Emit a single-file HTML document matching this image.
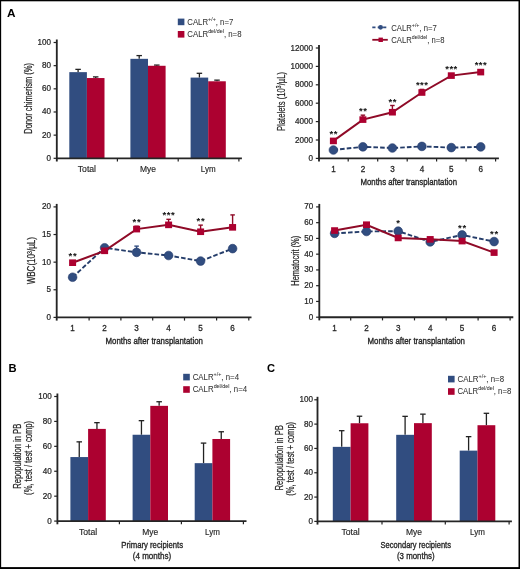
<!DOCTYPE html>
<html><head><meta charset="utf-8"><style>
html,body{margin:0;padding:0;width:520px;height:569px;overflow:hidden;background:#fff;}
body{position:relative;font-family:"Liberation Sans",sans-serif;}
</style></head><body>
<svg width="520" height="569" viewBox="0 0 520 569" style="position:absolute;left:0;top:0;will-change:transform;font-family:'Liberation Sans',sans-serif">
<rect x="0" y="0" width="520" height="569" fill="#fff"/>
<text x="7.0" y="16.8" font-size="11.8" text-anchor="start" fill="#000" font-weight="bold">A</text>
<text x="8.4" y="371.6" font-size="11.2" text-anchor="start" fill="#000" font-weight="bold">B</text>
<text x="267.0" y="372.4" font-size="11.2" text-anchor="start" fill="#000" font-weight="bold">C</text>
<line x1="78.1" y1="72.14" x2="78.1" y2="69.37" stroke="#222" stroke-width="1.3"/>
<line x1="75.35" y1="69.37" x2="80.85" y2="69.37" stroke="#222" stroke-width="1.3"/>
<line x1="95.7" y1="78.05" x2="95.7" y2="76.89" stroke="#222" stroke-width="1.3"/>
<line x1="92.95" y1="76.89" x2="98.45" y2="76.89" stroke="#222" stroke-width="1.3"/>
<rect x="69.3" y="72.14" width="17.6" height="86.16" fill="#314d80"/>
<rect x="86.9" y="78.05" width="17.6" height="80.25" fill="#ac0130"/>
<text x="86.9" y="172.2" font-size="8.2" text-anchor="middle" fill="#262626" font-weight="normal" textLength="18.3" lengthAdjust="spacingAndGlyphs" stroke="#262626" stroke-width="0.15">Total</text>
<line x1="139.2" y1="58.83" x2="139.2" y2="55.59" stroke="#222" stroke-width="1.3"/>
<line x1="136.45" y1="55.59" x2="141.95" y2="55.59" stroke="#222" stroke-width="1.3"/>
<line x1="156.8" y1="65.78" x2="156.8" y2="65.08" stroke="#222" stroke-width="1.3"/>
<line x1="154.05" y1="65.08" x2="159.55" y2="65.08" stroke="#222" stroke-width="1.3"/>
<rect x="130.4" y="58.83" width="17.6" height="99.47" fill="#314d80"/>
<rect x="148" y="65.78" width="17.6" height="92.52" fill="#ac0130"/>
<text x="148" y="172.2" font-size="8.2" text-anchor="middle" fill="#262626" font-weight="normal" textLength="16" lengthAdjust="spacingAndGlyphs" stroke="#262626" stroke-width="0.15">Mye</text>
<line x1="199.4" y1="77.59" x2="199.4" y2="73.3" stroke="#222" stroke-width="1.3"/>
<line x1="196.65" y1="73.3" x2="202.15" y2="73.3" stroke="#222" stroke-width="1.3"/>
<line x1="217.0" y1="81.29" x2="217.0" y2="80.14" stroke="#222" stroke-width="1.3"/>
<line x1="214.25" y1="80.14" x2="219.75" y2="80.14" stroke="#222" stroke-width="1.3"/>
<rect x="190.6" y="77.59" width="17.6" height="80.71" fill="#314d80"/>
<rect x="208.2" y="81.29" width="17.6" height="77.01" fill="#ac0130"/>
<text x="208.2" y="172.2" font-size="8.2" text-anchor="middle" fill="#262626" font-weight="normal" textLength="14.8" lengthAdjust="spacingAndGlyphs" stroke="#262626" stroke-width="0.15">Lym</text>
<line x1="56.8" y1="39.5" x2="56.8" y2="161.5" stroke="#252525" stroke-width="1.85"/>
<line x1="56.8" y1="158.3" x2="241.9" y2="158.3" stroke="#252525" stroke-width="1.85"/>
<line x1="53.6" y1="158.3" x2="56.8" y2="158.3" stroke="#222" stroke-width="1.2"/>
<g transform="translate(51,160.8) scale(0.9,1)"><text x="0" y="0" font-size="9" text-anchor="end" fill="#262626" stroke="#262626" stroke-width="0.25">0</text></g>
<line x1="53.6" y1="135.14" x2="56.8" y2="135.14" stroke="#222" stroke-width="1.2"/>
<g transform="translate(51,137.64) scale(0.9,1)"><text x="0" y="0" font-size="9" text-anchor="end" fill="#262626" stroke="#262626" stroke-width="0.25">20</text></g>
<line x1="53.6" y1="111.98" x2="56.8" y2="111.98" stroke="#222" stroke-width="1.2"/>
<g transform="translate(51,114.48) scale(0.9,1)"><text x="0" y="0" font-size="9" text-anchor="end" fill="#262626" stroke="#262626" stroke-width="0.25">40</text></g>
<line x1="53.6" y1="88.82" x2="56.8" y2="88.82" stroke="#222" stroke-width="1.2"/>
<g transform="translate(51,91.32) scale(0.9,1)"><text x="0" y="0" font-size="9" text-anchor="end" fill="#262626" stroke="#262626" stroke-width="0.25">60</text></g>
<line x1="53.6" y1="65.66" x2="56.8" y2="65.66" stroke="#222" stroke-width="1.2"/>
<g transform="translate(51,68.16) scale(0.9,1)"><text x="0" y="0" font-size="9" text-anchor="end" fill="#262626" stroke="#262626" stroke-width="0.25">80</text></g>
<line x1="53.6" y1="42.5" x2="56.8" y2="42.5" stroke="#222" stroke-width="1.2"/>
<g transform="translate(51,45.0) scale(0.9,1)"><text x="0" y="0" font-size="9" text-anchor="end" fill="#262626" stroke="#262626" stroke-width="0.25">100</text></g>
<line x1="117.4" y1="158.3" x2="117.4" y2="161.5" stroke="#222" stroke-width="1.2"/>
<line x1="178.2" y1="158.3" x2="178.2" y2="161.5" stroke="#222" stroke-width="1.2"/>
<line x1="238.9" y1="158.3" x2="238.9" y2="161.5" stroke="#222" stroke-width="1.2"/>
<text transform="translate(32.2,98.4) rotate(-90)" x="0" y="0" font-size="10" text-anchor="middle" fill="#262626" textLength="70.8" lengthAdjust="spacingAndGlyphs" stroke="#262626" stroke-width="0.22">Donor chimerism (%)</text>
<rect x="177.8" y="18.6" width="6.6" height="6.6" fill="#314d80"/>
<rect x="177.8" y="31.0" width="6.6" height="6.6" fill="#ac0130"/>
<text x="187.3" y="24.6" font-size="8.2" fill="#333" stroke="#333" stroke-width="0.05" textLength="46" lengthAdjust="spacingAndGlyphs">CALR<tspan font-size="5.6" dy="-3.9">+/+</tspan><tspan dy="3.9">, n=7</tspan></text>
<text x="187.3" y="37.0" font-size="8.2" fill="#333" stroke="#333" stroke-width="0.05" textLength="54.2" lengthAdjust="spacingAndGlyphs">CALR<tspan font-size="5.6" dy="-3.9">del/del</tspan><tspan dy="3.9">, n=8</tspan></text>
<line x1="319" y1="45" x2="319" y2="161.6" stroke="#252525" stroke-width="1.85"/>
<line x1="319" y1="158.4" x2="498.9" y2="158.4" stroke="#252525" stroke-width="1.85"/>
<line x1="315.8" y1="158.4" x2="319" y2="158.4" stroke="#222" stroke-width="1.2"/>
<g transform="translate(313,160.9) scale(0.9,1)"><text x="0" y="0" font-size="9" text-anchor="end" fill="#262626" stroke="#262626" stroke-width="0.25">0</text></g>
<line x1="315.8" y1="140.0" x2="319" y2="140.0" stroke="#222" stroke-width="1.2"/>
<g transform="translate(313,142.5) scale(0.9,1)"><text x="0" y="0" font-size="9" text-anchor="end" fill="#262626" stroke="#262626" stroke-width="0.25">2000</text></g>
<line x1="315.8" y1="121.6" x2="319" y2="121.6" stroke="#222" stroke-width="1.2"/>
<g transform="translate(313,124.1) scale(0.9,1)"><text x="0" y="0" font-size="9" text-anchor="end" fill="#262626" stroke="#262626" stroke-width="0.25">4000</text></g>
<line x1="315.8" y1="103.2" x2="319" y2="103.2" stroke="#222" stroke-width="1.2"/>
<g transform="translate(313,105.7) scale(0.9,1)"><text x="0" y="0" font-size="9" text-anchor="end" fill="#262626" stroke="#262626" stroke-width="0.25">6000</text></g>
<line x1="315.8" y1="84.8" x2="319" y2="84.8" stroke="#222" stroke-width="1.2"/>
<g transform="translate(313,87.3) scale(0.9,1)"><text x="0" y="0" font-size="9" text-anchor="end" fill="#262626" stroke="#262626" stroke-width="0.25">8000</text></g>
<line x1="315.8" y1="66.4" x2="319" y2="66.4" stroke="#222" stroke-width="1.2"/>
<g transform="translate(313,68.9) scale(0.9,1)"><text x="0" y="0" font-size="9" text-anchor="end" fill="#262626" stroke="#262626" stroke-width="0.25">10000</text></g>
<line x1="315.8" y1="48.0" x2="319" y2="48.0" stroke="#222" stroke-width="1.2"/>
<g transform="translate(313,50.5) scale(0.9,1)"><text x="0" y="0" font-size="9" text-anchor="end" fill="#262626" stroke="#262626" stroke-width="0.25">12000</text></g>
<line x1="348.2" y1="158.4" x2="348.2" y2="161.6" stroke="#222" stroke-width="1.2"/>
<line x1="377.7" y1="158.4" x2="377.7" y2="161.6" stroke="#222" stroke-width="1.2"/>
<line x1="407.2" y1="158.4" x2="407.2" y2="161.6" stroke="#222" stroke-width="1.2"/>
<line x1="436.6" y1="158.4" x2="436.6" y2="161.6" stroke="#222" stroke-width="1.2"/>
<line x1="466.1" y1="158.4" x2="466.1" y2="161.6" stroke="#222" stroke-width="1.2"/>
<line x1="495.6" y1="158.4" x2="495.6" y2="161.6" stroke="#222" stroke-width="1.2"/>
<line x1="362.9" y1="119.6" x2="362.9" y2="115.16" stroke="#8f0a27" stroke-width="1.4"/>
<line x1="360.65" y1="115.16" x2="365.15" y2="115.16" stroke="#8f0a27" stroke-width="1.4"/>
<line x1="392.4" y1="112.22" x2="392.4" y2="105.5" stroke="#8f0a27" stroke-width="1.4"/>
<line x1="390.15" y1="105.5" x2="394.65" y2="105.5" stroke="#8f0a27" stroke-width="1.4"/>
<line x1="421.9" y1="92.5" x2="421.9" y2="89.4" stroke="#8f0a27" stroke-width="1.4"/>
<line x1="419.65" y1="89.4" x2="424.15" y2="89.4" stroke="#8f0a27" stroke-width="1.4"/>
<polyline points="333.4,150.00 362.9,146.81 392.4,148.00 421.9,146.40 451.3,147.60 480.7,146.90" fill="none" stroke="#253d6a" stroke-width="1.9" stroke-dasharray="4.6 2.1"/>
<circle cx="333.4" cy="150.00" r="4.35" fill="#314d80" stroke="#24396a" stroke-width="0.6"/>
<circle cx="362.9" cy="146.81" r="4.35" fill="#314d80" stroke="#24396a" stroke-width="0.6"/>
<circle cx="392.4" cy="148.00" r="4.35" fill="#314d80" stroke="#24396a" stroke-width="0.6"/>
<circle cx="421.9" cy="146.40" r="4.35" fill="#314d80" stroke="#24396a" stroke-width="0.6"/>
<circle cx="451.3" cy="147.60" r="4.35" fill="#314d80" stroke="#24396a" stroke-width="0.6"/>
<circle cx="480.7" cy="146.90" r="4.35" fill="#314d80" stroke="#24396a" stroke-width="0.6"/>
<polyline points="333.4,140.92 362.9,119.60 392.4,112.22 421.9,92.50 451.3,75.60 480.7,72.10" fill="none" stroke="#8f0a27" stroke-width="2"/>
<rect x="329.9" y="137.62" width="7" height="6.6" fill="#ac0130"/>
<rect x="359.4" y="116.30" width="7" height="6.6" fill="#ac0130"/>
<rect x="388.9" y="108.92" width="7" height="6.6" fill="#ac0130"/>
<rect x="418.4" y="89.20" width="7" height="6.6" fill="#ac0130"/>
<rect x="447.8" y="72.30" width="7" height="6.6" fill="#ac0130"/>
<rect x="477.2" y="68.80" width="7" height="6.6" fill="#ac0130"/>
<text x="333.4" y="136.9" font-size="9.5" text-anchor="middle" fill="#111" font-weight="bold" textLength="8.0" lengthAdjust="spacing">**</text>
<text x="362.9" y="113.5" font-size="9.5" text-anchor="middle" fill="#111" font-weight="bold" textLength="8.0" lengthAdjust="spacing">**</text>
<text x="392.4" y="104.8" font-size="9.5" text-anchor="middle" fill="#111" font-weight="bold" textLength="8.0" lengthAdjust="spacing">**</text>
<text x="421.9" y="87.5" font-size="9.5" text-anchor="middle" fill="#111" font-weight="bold" textLength="12.0" lengthAdjust="spacing">***</text>
<text x="451.3" y="71.5" font-size="9.5" text-anchor="middle" fill="#111" font-weight="bold" textLength="12.0" lengthAdjust="spacing">***</text>
<text x="480.7" y="68.3" font-size="9.5" text-anchor="middle" fill="#111" font-weight="bold" textLength="12.0" lengthAdjust="spacing">***</text>
<g transform="translate(333.4,171.5) scale(0.9,1)"><text x="0" y="0" font-size="9" text-anchor="middle" fill="#262626" stroke="#262626" stroke-width="0.3">1</text></g>
<g transform="translate(362.9,171.5) scale(0.9,1)"><text x="0" y="0" font-size="9" text-anchor="middle" fill="#262626" stroke="#262626" stroke-width="0.3">2</text></g>
<g transform="translate(392.4,171.5) scale(0.9,1)"><text x="0" y="0" font-size="9" text-anchor="middle" fill="#262626" stroke="#262626" stroke-width="0.3">3</text></g>
<g transform="translate(421.9,171.5) scale(0.9,1)"><text x="0" y="0" font-size="9" text-anchor="middle" fill="#262626" stroke="#262626" stroke-width="0.3">4</text></g>
<g transform="translate(451.3,171.5) scale(0.9,1)"><text x="0" y="0" font-size="9" text-anchor="middle" fill="#262626" stroke="#262626" stroke-width="0.3">5</text></g>
<g transform="translate(480.7,171.5) scale(0.9,1)"><text x="0" y="0" font-size="9" text-anchor="middle" fill="#262626" stroke="#262626" stroke-width="0.3">6</text></g>
<text x="360.5" y="185.1" font-size="9.8" text-anchor="start" fill="#262626" font-weight="normal" textLength="96.5" lengthAdjust="spacingAndGlyphs" stroke="#262626" stroke-width="0.38">Months after transplantation</text>
<text transform="translate(284.5,101.5) rotate(-90)" x="0" y="0" font-size="10" text-anchor="middle" fill="#262626" textLength="59.2" lengthAdjust="spacingAndGlyphs" stroke="#262626" stroke-width="0.22">Platelets (10<tspan font-size="6.5" dy="-3.6">3</tspan><tspan dy="3.6">/µL)</tspan></text>
<line x1="372.3" y1="27.3" x2="387.8" y2="27.3" stroke="#314d80" stroke-width="1.8" stroke-dasharray="3.2 2.2"/>
<circle cx="380.6" cy="27.3" r="2.4" fill="#314d80"/>
<line x1="372.3" y1="39.8" x2="387.8" y2="39.8" stroke="#8f0a27" stroke-width="1.8"/>
<rect x="378.5" y="37.599999999999994" width="4.4" height="4.4" fill="#ac0130"/>
<text x="391.3" y="30.5" font-size="8.2" fill="#333" stroke="#333" stroke-width="0.05" textLength="45.5" lengthAdjust="spacingAndGlyphs">CALR<tspan font-size="5.6" dy="-3.9">+/+</tspan><tspan dy="3.9">, n=7</tspan></text>
<text x="391.3" y="43.0" font-size="8.2" fill="#333" stroke="#333" stroke-width="0.05" textLength="53.2" lengthAdjust="spacingAndGlyphs">CALR<tspan font-size="5.6" dy="-3.9">del/del</tspan><tspan dy="3.9">, n=8</tspan></text>
<line x1="56.7" y1="203.9" x2="56.7" y2="320.6" stroke="#252525" stroke-width="1.85"/>
<line x1="56.7" y1="317.4" x2="251.5" y2="317.4" stroke="#252525" stroke-width="1.85"/>
<line x1="53.5" y1="317.4" x2="56.7" y2="317.4" stroke="#222" stroke-width="1.2"/>
<g transform="translate(51,319.9) scale(0.9,1)"><text x="0" y="0" font-size="9" text-anchor="end" fill="#262626" stroke="#262626" stroke-width="0.25">0</text></g>
<line x1="53.5" y1="289.77" x2="56.7" y2="289.77" stroke="#222" stroke-width="1.2"/>
<g transform="translate(51,292.27) scale(0.9,1)"><text x="0" y="0" font-size="9" text-anchor="end" fill="#262626" stroke="#262626" stroke-width="0.25">5</text></g>
<line x1="53.5" y1="262.15" x2="56.7" y2="262.15" stroke="#222" stroke-width="1.2"/>
<g transform="translate(51,264.65) scale(0.9,1)"><text x="0" y="0" font-size="9" text-anchor="end" fill="#262626" stroke="#262626" stroke-width="0.25">10</text></g>
<line x1="53.5" y1="234.53" x2="56.7" y2="234.53" stroke="#222" stroke-width="1.2"/>
<g transform="translate(51,237.03) scale(0.9,1)"><text x="0" y="0" font-size="9" text-anchor="end" fill="#262626" stroke="#262626" stroke-width="0.25">15</text></g>
<line x1="53.5" y1="206.9" x2="56.7" y2="206.9" stroke="#222" stroke-width="1.2"/>
<g transform="translate(51,209.4) scale(0.9,1)"><text x="0" y="0" font-size="9" text-anchor="end" fill="#262626" stroke="#262626" stroke-width="0.25">20</text></g>
<line x1="89.1" y1="317.4" x2="89.1" y2="320.6" stroke="#222" stroke-width="1.2"/>
<line x1="120.9" y1="317.4" x2="120.9" y2="320.6" stroke="#222" stroke-width="1.2"/>
<line x1="152.7" y1="317.4" x2="152.7" y2="320.6" stroke="#222" stroke-width="1.2"/>
<line x1="184.5" y1="317.4" x2="184.5" y2="320.6" stroke="#222" stroke-width="1.2"/>
<line x1="216.6" y1="317.4" x2="216.6" y2="320.6" stroke="#222" stroke-width="1.2"/>
<line x1="248.8" y1="317.4" x2="248.8" y2="320.6" stroke="#222" stroke-width="1.2"/>
<line x1="136.6" y1="252.37" x2="136.6" y2="246.13" stroke="#314d80" stroke-width="1.4"/>
<line x1="134.35" y1="246.13" x2="138.85" y2="246.13" stroke="#314d80" stroke-width="1.4"/>
<line x1="232.6" y1="248.61" x2="232.6" y2="245.57" stroke="#314d80" stroke-width="1.4"/>
<line x1="230.35" y1="245.57" x2="234.85" y2="245.57" stroke="#314d80" stroke-width="1.4"/>
<line x1="136.6" y1="229.11" x2="136.6" y2="226.24" stroke="#8f0a27" stroke-width="1.4"/>
<line x1="134.35" y1="226.24" x2="138.85" y2="226.24" stroke="#8f0a27" stroke-width="1.4"/>
<line x1="168.6" y1="224.86" x2="168.6" y2="219.33" stroke="#8f0a27" stroke-width="1.4"/>
<line x1="166.35" y1="219.33" x2="170.85" y2="219.33" stroke="#8f0a27" stroke-width="1.4"/>
<line x1="200.6" y1="231.76" x2="200.6" y2="225.13" stroke="#8f0a27" stroke-width="1.4"/>
<line x1="198.35" y1="225.13" x2="202.85" y2="225.13" stroke="#8f0a27" stroke-width="1.4"/>
<line x1="232.6" y1="227.34" x2="232.6" y2="214.91" stroke="#8f0a27" stroke-width="1.4"/>
<line x1="230.35" y1="214.91" x2="234.85" y2="214.91" stroke="#8f0a27" stroke-width="1.4"/>
<polyline points="72.6,277.23 104.6,247.78 136.6,252.37 168.6,255.52 200.6,261.05 232.6,248.61" fill="none" stroke="#253d6a" stroke-width="1.9" stroke-dasharray="4.6 2.1"/>
<circle cx="72.6" cy="277.23" r="4.35" fill="#314d80" stroke="#24396a" stroke-width="0.6"/>
<circle cx="104.6" cy="247.78" r="4.35" fill="#314d80" stroke="#24396a" stroke-width="0.6"/>
<circle cx="136.6" cy="252.37" r="4.35" fill="#314d80" stroke="#24396a" stroke-width="0.6"/>
<circle cx="168.6" cy="255.52" r="4.35" fill="#314d80" stroke="#24396a" stroke-width="0.6"/>
<circle cx="200.6" cy="261.05" r="4.35" fill="#314d80" stroke="#24396a" stroke-width="0.6"/>
<circle cx="232.6" cy="248.61" r="4.35" fill="#314d80" stroke="#24396a" stroke-width="0.6"/>
<polyline points="72.6,262.70 104.6,250.82 136.6,229.11 168.6,224.86 200.6,231.76 232.6,227.34" fill="none" stroke="#8f0a27" stroke-width="2"/>
<rect x="69.1" y="259.40" width="7" height="6.6" fill="#ac0130"/>
<rect x="101.1" y="247.52" width="7" height="6.6" fill="#ac0130"/>
<rect x="133.1" y="225.81" width="7" height="6.6" fill="#ac0130"/>
<rect x="165.1" y="221.56" width="7" height="6.6" fill="#ac0130"/>
<rect x="197.1" y="228.46" width="7" height="6.6" fill="#ac0130"/>
<rect x="229.1" y="224.04" width="7" height="6.6" fill="#ac0130"/>
<text x="72.6" y="258.6" font-size="9.5" text-anchor="middle" fill="#111" font-weight="bold" textLength="8.0" lengthAdjust="spacing">**</text>
<text x="136.6" y="224.8" font-size="9.5" text-anchor="middle" fill="#111" font-weight="bold" textLength="8.0" lengthAdjust="spacing">**</text>
<text x="168.6" y="218.05" font-size="9.5" text-anchor="middle" fill="#111" font-weight="bold" textLength="12.0" lengthAdjust="spacing">***</text>
<text x="200.6" y="223.8" font-size="9.5" text-anchor="middle" fill="#111" font-weight="bold" textLength="8.0" lengthAdjust="spacing">**</text>
<g transform="translate(72.6,330.5) scale(0.9,1)"><text x="0" y="0" font-size="9" text-anchor="middle" fill="#262626" stroke="#262626" stroke-width="0.3">1</text></g>
<g transform="translate(104.6,330.5) scale(0.9,1)"><text x="0" y="0" font-size="9" text-anchor="middle" fill="#262626" stroke="#262626" stroke-width="0.3">2</text></g>
<g transform="translate(136.6,330.5) scale(0.9,1)"><text x="0" y="0" font-size="9" text-anchor="middle" fill="#262626" stroke="#262626" stroke-width="0.3">3</text></g>
<g transform="translate(168.6,330.5) scale(0.9,1)"><text x="0" y="0" font-size="9" text-anchor="middle" fill="#262626" stroke="#262626" stroke-width="0.3">4</text></g>
<g transform="translate(200.6,330.5) scale(0.9,1)"><text x="0" y="0" font-size="9" text-anchor="middle" fill="#262626" stroke="#262626" stroke-width="0.3">5</text></g>
<g transform="translate(232.6,330.5) scale(0.9,1)"><text x="0" y="0" font-size="9" text-anchor="middle" fill="#262626" stroke="#262626" stroke-width="0.3">6</text></g>
<text x="105.5" y="343.6" font-size="9.8" text-anchor="start" fill="#262626" font-weight="normal" textLength="97.5" lengthAdjust="spacingAndGlyphs" stroke="#262626" stroke-width="0.38">Months after transplantation</text>
<text transform="translate(35.4,260.7) rotate(-90)" x="0" y="0" font-size="10" text-anchor="middle" fill="#262626" textLength="47.3" lengthAdjust="spacingAndGlyphs" stroke="#262626" stroke-width="0.22">WBC(10<tspan font-size="6.5" dy="-3.6">3</tspan><tspan dy="3.6">/µL)</tspan></text>
<line x1="319.3" y1="203.9" x2="319.3" y2="320.4" stroke="#252525" stroke-width="1.85"/>
<line x1="319.3" y1="317.2" x2="513.3" y2="317.2" stroke="#252525" stroke-width="1.85"/>
<line x1="316.1" y1="317.2" x2="319.3" y2="317.2" stroke="#222" stroke-width="1.2"/>
<g transform="translate(313.2,319.7) scale(0.9,1)"><text x="0" y="0" font-size="9" text-anchor="end" fill="#262626" stroke="#262626" stroke-width="0.25">0</text></g>
<line x1="316.1" y1="301.44" x2="319.3" y2="301.44" stroke="#222" stroke-width="1.2"/>
<g transform="translate(313.2,303.94) scale(0.9,1)"><text x="0" y="0" font-size="9" text-anchor="end" fill="#262626" stroke="#262626" stroke-width="0.25">10</text></g>
<line x1="316.1" y1="285.69" x2="319.3" y2="285.69" stroke="#222" stroke-width="1.2"/>
<g transform="translate(313.2,288.19) scale(0.9,1)"><text x="0" y="0" font-size="9" text-anchor="end" fill="#262626" stroke="#262626" stroke-width="0.25">20</text></g>
<line x1="316.1" y1="269.93" x2="319.3" y2="269.93" stroke="#222" stroke-width="1.2"/>
<g transform="translate(313.2,272.43) scale(0.9,1)"><text x="0" y="0" font-size="9" text-anchor="end" fill="#262626" stroke="#262626" stroke-width="0.25">30</text></g>
<line x1="316.1" y1="254.17" x2="319.3" y2="254.17" stroke="#222" stroke-width="1.2"/>
<g transform="translate(313.2,256.67) scale(0.9,1)"><text x="0" y="0" font-size="9" text-anchor="end" fill="#262626" stroke="#262626" stroke-width="0.25">40</text></g>
<line x1="316.1" y1="238.41" x2="319.3" y2="238.41" stroke="#222" stroke-width="1.2"/>
<g transform="translate(313.2,240.91) scale(0.9,1)"><text x="0" y="0" font-size="9" text-anchor="end" fill="#262626" stroke="#262626" stroke-width="0.25">50</text></g>
<line x1="316.1" y1="222.66" x2="319.3" y2="222.66" stroke="#222" stroke-width="1.2"/>
<g transform="translate(313.2,225.16) scale(0.9,1)"><text x="0" y="0" font-size="9" text-anchor="end" fill="#262626" stroke="#262626" stroke-width="0.25">60</text></g>
<line x1="316.1" y1="206.9" x2="319.3" y2="206.9" stroke="#222" stroke-width="1.2"/>
<g transform="translate(313.2,209.4) scale(0.9,1)"><text x="0" y="0" font-size="9" text-anchor="end" fill="#262626" stroke="#262626" stroke-width="0.25">70</text></g>
<line x1="350.7" y1="317.2" x2="350.7" y2="320.4" stroke="#222" stroke-width="1.2"/>
<line x1="382.5" y1="317.2" x2="382.5" y2="320.4" stroke="#222" stroke-width="1.2"/>
<line x1="414.5" y1="317.2" x2="414.5" y2="320.4" stroke="#222" stroke-width="1.2"/>
<line x1="446.2" y1="317.2" x2="446.2" y2="320.4" stroke="#222" stroke-width="1.2"/>
<line x1="478.1" y1="317.2" x2="478.1" y2="320.4" stroke="#222" stroke-width="1.2"/>
<line x1="510.1" y1="317.2" x2="510.1" y2="320.4" stroke="#222" stroke-width="1.2"/>
<polyline points="334.6,233.37 366.5,231.48 398.2,231.17 430.2,241.88 462.1,234.95 494.1,241.57" fill="none" stroke="#253d6a" stroke-width="1.9" stroke-dasharray="4.6 2.1"/>
<circle cx="334.6" cy="233.37" r="4.35" fill="#314d80" stroke="#24396a" stroke-width="0.6"/>
<circle cx="366.5" cy="231.48" r="4.35" fill="#314d80" stroke="#24396a" stroke-width="0.6"/>
<circle cx="398.2" cy="231.17" r="4.35" fill="#314d80" stroke="#24396a" stroke-width="0.6"/>
<circle cx="430.2" cy="241.88" r="4.35" fill="#314d80" stroke="#24396a" stroke-width="0.6"/>
<circle cx="462.1" cy="234.95" r="4.35" fill="#314d80" stroke="#24396a" stroke-width="0.6"/>
<circle cx="494.1" cy="241.57" r="4.35" fill="#314d80" stroke="#24396a" stroke-width="0.6"/>
<polyline points="334.6,230.54 366.5,224.71 398.2,237.94 430.2,239.36 462.1,241.09 494.1,252.60" fill="none" stroke="#8f0a27" stroke-width="2"/>
<rect x="331.1" y="227.24" width="7" height="6.6" fill="#ac0130"/>
<rect x="363.0" y="221.41" width="7" height="6.6" fill="#ac0130"/>
<rect x="394.7" y="234.64" width="7" height="6.6" fill="#ac0130"/>
<rect x="426.7" y="236.06" width="7" height="6.6" fill="#ac0130"/>
<rect x="458.6" y="237.79" width="7" height="6.6" fill="#ac0130"/>
<rect x="490.6" y="249.30" width="7" height="6.6" fill="#ac0130"/>
<text x="398.2" y="226.3" font-size="9.5" text-anchor="middle" fill="#111" font-weight="bold" textLength="4.0" lengthAdjust="spacing">*</text>
<text x="462.1" y="230.55" font-size="9.5" text-anchor="middle" fill="#111" font-weight="bold" textLength="8.0" lengthAdjust="spacing">**</text>
<text x="494.1" y="237.3" font-size="9.5" text-anchor="middle" fill="#111" font-weight="bold" textLength="8.0" lengthAdjust="spacing">**</text>
<g transform="translate(334.6,330.5) scale(0.9,1)"><text x="0" y="0" font-size="9" text-anchor="middle" fill="#262626" stroke="#262626" stroke-width="0.3">1</text></g>
<g transform="translate(366.5,330.5) scale(0.9,1)"><text x="0" y="0" font-size="9" text-anchor="middle" fill="#262626" stroke="#262626" stroke-width="0.3">2</text></g>
<g transform="translate(398.2,330.5) scale(0.9,1)"><text x="0" y="0" font-size="9" text-anchor="middle" fill="#262626" stroke="#262626" stroke-width="0.3">3</text></g>
<g transform="translate(430.2,330.5) scale(0.9,1)"><text x="0" y="0" font-size="9" text-anchor="middle" fill="#262626" stroke="#262626" stroke-width="0.3">4</text></g>
<g transform="translate(462.1,330.5) scale(0.9,1)"><text x="0" y="0" font-size="9" text-anchor="middle" fill="#262626" stroke="#262626" stroke-width="0.3">5</text></g>
<g transform="translate(494.1,330.5) scale(0.9,1)"><text x="0" y="0" font-size="9" text-anchor="middle" fill="#262626" stroke="#262626" stroke-width="0.3">6</text></g>
<text x="367.5" y="343.6" font-size="9.8" text-anchor="start" fill="#262626" font-weight="normal" textLength="97.5" lengthAdjust="spacingAndGlyphs" stroke="#262626" stroke-width="0.38">Months after transplantation</text>
<text transform="translate(299.0,260.75) rotate(-90)" x="0" y="0" font-size="10" text-anchor="middle" fill="#262626" textLength="50" lengthAdjust="spacingAndGlyphs" stroke="#262626" stroke-width="0.22">Hematocrit (%)</text>
<line x1="79.25" y1="457.06" x2="79.25" y2="441.85" stroke="#222" stroke-width="1.3"/>
<line x1="76.5" y1="441.85" x2="82.0" y2="441.85" stroke="#222" stroke-width="1.3"/>
<line x1="96.95" y1="428.9" x2="96.95" y2="422.67" stroke="#222" stroke-width="1.3"/>
<line x1="94.2" y1="422.67" x2="99.7" y2="422.67" stroke="#222" stroke-width="1.3"/>
<rect x="70.4" y="457.06" width="17.7" height="64.04" fill="#314d80"/>
<rect x="88.1" y="428.9" width="17.7" height="92.2" fill="#ac0130"/>
<text x="88.1" y="535.2" font-size="8.2" text-anchor="middle" fill="#262626" font-weight="normal" textLength="18.3" lengthAdjust="spacingAndGlyphs" stroke="#262626" stroke-width="0.15">Total</text>
<line x1="141.45" y1="434.75" x2="141.45" y2="420.67" stroke="#222" stroke-width="1.3"/>
<line x1="138.7" y1="420.67" x2="144.2" y2="420.67" stroke="#222" stroke-width="1.3"/>
<line x1="159.15" y1="405.85" x2="159.15" y2="401.73" stroke="#222" stroke-width="1.3"/>
<line x1="156.4" y1="401.73" x2="161.9" y2="401.73" stroke="#222" stroke-width="1.3"/>
<rect x="132.6" y="434.75" width="17.7" height="86.35" fill="#314d80"/>
<rect x="150.3" y="405.85" width="17.7" height="115.25" fill="#ac0130"/>
<text x="150.3" y="535.2" font-size="8.2" text-anchor="middle" fill="#262626" font-weight="normal" textLength="16" lengthAdjust="spacingAndGlyphs" stroke="#262626" stroke-width="0.15">Mye</text>
<line x1="203.55" y1="463.16" x2="203.55" y2="443.1" stroke="#222" stroke-width="1.3"/>
<line x1="200.8" y1="443.1" x2="206.3" y2="443.1" stroke="#222" stroke-width="1.3"/>
<line x1="221.25" y1="438.99" x2="221.25" y2="431.76" stroke="#222" stroke-width="1.3"/>
<line x1="218.5" y1="431.76" x2="224.0" y2="431.76" stroke="#222" stroke-width="1.3"/>
<rect x="194.7" y="463.16" width="17.7" height="57.94" fill="#314d80"/>
<rect x="212.4" y="438.99" width="17.7" height="82.11" fill="#ac0130"/>
<text x="212.4" y="535.2" font-size="8.2" text-anchor="middle" fill="#262626" font-weight="normal" textLength="14.8" lengthAdjust="spacingAndGlyphs" stroke="#262626" stroke-width="0.15">Lym</text>
<line x1="57.4" y1="393.5" x2="57.4" y2="524.3" stroke="#252525" stroke-width="1.85"/>
<line x1="57.4" y1="521.1" x2="246.5" y2="521.1" stroke="#252525" stroke-width="1.85"/>
<line x1="54.2" y1="521.1" x2="57.4" y2="521.1" stroke="#222" stroke-width="1.2"/>
<g transform="translate(51.7,523.6) scale(0.9,1)"><text x="0" y="0" font-size="9" text-anchor="end" fill="#262626" stroke="#262626" stroke-width="0.25">0</text></g>
<line x1="54.2" y1="496.18" x2="57.4" y2="496.18" stroke="#222" stroke-width="1.2"/>
<g transform="translate(51.7,498.68) scale(0.9,1)"><text x="0" y="0" font-size="9" text-anchor="end" fill="#262626" stroke="#262626" stroke-width="0.25">20</text></g>
<line x1="54.2" y1="471.26" x2="57.4" y2="471.26" stroke="#222" stroke-width="1.2"/>
<g transform="translate(51.7,473.76) scale(0.9,1)"><text x="0" y="0" font-size="9" text-anchor="end" fill="#262626" stroke="#262626" stroke-width="0.25">40</text></g>
<line x1="54.2" y1="446.34" x2="57.4" y2="446.34" stroke="#222" stroke-width="1.2"/>
<g transform="translate(51.7,448.84) scale(0.9,1)"><text x="0" y="0" font-size="9" text-anchor="end" fill="#262626" stroke="#262626" stroke-width="0.25">60</text></g>
<line x1="54.2" y1="421.42" x2="57.4" y2="421.42" stroke="#222" stroke-width="1.2"/>
<g transform="translate(51.7,423.92) scale(0.9,1)"><text x="0" y="0" font-size="9" text-anchor="end" fill="#262626" stroke="#262626" stroke-width="0.25">80</text></g>
<line x1="54.2" y1="396.5" x2="57.4" y2="396.5" stroke="#222" stroke-width="1.2"/>
<g transform="translate(51.7,399.0) scale(0.9,1)"><text x="0" y="0" font-size="9" text-anchor="end" fill="#262626" stroke="#262626" stroke-width="0.25">100</text></g>
<line x1="119.4" y1="521.1" x2="119.4" y2="524.3" stroke="#222" stroke-width="1.2"/>
<line x1="181.4" y1="521.1" x2="181.4" y2="524.3" stroke="#222" stroke-width="1.2"/>
<line x1="243.4" y1="521.1" x2="243.4" y2="524.3" stroke="#222" stroke-width="1.2"/>
<text transform="translate(20.5,456.3) rotate(-90)" x="0" y="0" font-size="10" text-anchor="middle" fill="#262626" textLength="65" lengthAdjust="spacingAndGlyphs" stroke="#262626" stroke-width="0.22">Repopulation in PB</text>
<text transform="translate(31.9,457.9) rotate(-90)" x="0" y="0" font-size="10" text-anchor="middle" fill="#262626" textLength="74" lengthAdjust="spacingAndGlyphs" stroke="#262626" stroke-width="0.22">(%, test / test + comp)</text>
<rect x="183.2" y="373.8" width="6.6" height="6.6" fill="#314d80"/>
<rect x="183.2" y="386.2" width="6.6" height="6.6" fill="#ac0130"/>
<text x="192.7" y="379.8" font-size="8.2" fill="#333" stroke="#333" stroke-width="0.05" textLength="46.3" lengthAdjust="spacingAndGlyphs">CALR<tspan font-size="5.6" dy="-3.9">+/+</tspan><tspan dy="3.9">, n=4</tspan></text>
<text x="192.7" y="392.2" font-size="8.2" fill="#333" stroke="#333" stroke-width="0.05" textLength="54.4" lengthAdjust="spacingAndGlyphs">CALR<tspan font-size="5.6" dy="-3.9">del/del</tspan><tspan dy="3.9">, n=4</tspan></text>
<text x="152.2" y="548.1" font-size="9.8" text-anchor="middle" fill="#262626" font-weight="normal" textLength="61.7" lengthAdjust="spacingAndGlyphs" stroke="#262626" stroke-width="0.36">Primary recipients</text>
<text x="152.0" y="559.1" font-size="9.8" text-anchor="middle" fill="#262626" font-weight="normal" textLength="38.3" lengthAdjust="spacingAndGlyphs" stroke="#262626" stroke-width="0.36">(4 months)</text>
<line x1="341.7" y1="446.86" x2="341.7" y2="430.69" stroke="#222" stroke-width="1.3"/>
<line x1="338.95" y1="430.69" x2="344.45" y2="430.69" stroke="#222" stroke-width="1.3"/>
<line x1="359.5" y1="423.27" x2="359.5" y2="416.22" stroke="#222" stroke-width="1.3"/>
<line x1="356.75" y1="416.22" x2="362.25" y2="416.22" stroke="#222" stroke-width="1.3"/>
<rect x="332.8" y="446.86" width="17.8" height="74.54" fill="#314d80"/>
<rect x="350.6" y="423.27" width="17.8" height="98.13" fill="#ac0130"/>
<text x="350.6" y="534.9" font-size="8.2" text-anchor="middle" fill="#262626" font-weight="normal" textLength="18.3" lengthAdjust="spacingAndGlyphs" stroke="#262626" stroke-width="0.15">Total</text>
<line x1="405.1" y1="434.82" x2="405.1" y2="416.34" stroke="#222" stroke-width="1.3"/>
<line x1="402.35" y1="416.34" x2="407.85" y2="416.34" stroke="#222" stroke-width="1.3"/>
<line x1="422.9" y1="423.15" x2="422.9" y2="414.15" stroke="#222" stroke-width="1.3"/>
<line x1="420.15" y1="414.15" x2="425.65" y2="414.15" stroke="#222" stroke-width="1.3"/>
<rect x="396.2" y="434.82" width="17.8" height="86.58" fill="#314d80"/>
<rect x="414" y="423.15" width="17.8" height="98.25" fill="#ac0130"/>
<text x="414" y="534.9" font-size="8.2" text-anchor="middle" fill="#262626" font-weight="normal" textLength="16" lengthAdjust="spacingAndGlyphs" stroke="#262626" stroke-width="0.15">Mye</text>
<line x1="468.6" y1="450.63" x2="468.6" y2="436.64" stroke="#222" stroke-width="1.3"/>
<line x1="465.85" y1="436.64" x2="471.35" y2="436.64" stroke="#222" stroke-width="1.3"/>
<line x1="486.4" y1="425.21" x2="486.4" y2="413.3" stroke="#222" stroke-width="1.3"/>
<line x1="483.65" y1="413.3" x2="489.15" y2="413.3" stroke="#222" stroke-width="1.3"/>
<rect x="459.7" y="450.63" width="17.8" height="70.77" fill="#314d80"/>
<rect x="477.5" y="425.21" width="17.8" height="96.19" fill="#ac0130"/>
<text x="477.5" y="534.9" font-size="8.2" text-anchor="middle" fill="#262626" font-weight="normal" textLength="14.8" lengthAdjust="spacingAndGlyphs" stroke="#262626" stroke-width="0.15">Lym</text>
<line x1="317.5" y1="396.8" x2="317.5" y2="524.6" stroke="#252525" stroke-width="1.85"/>
<line x1="317.5" y1="521.4" x2="511.9" y2="521.4" stroke="#252525" stroke-width="1.85"/>
<line x1="314.3" y1="521.4" x2="317.5" y2="521.4" stroke="#222" stroke-width="1.2"/>
<g transform="translate(313,523.9) scale(0.9,1)"><text x="0" y="0" font-size="9" text-anchor="end" fill="#262626" stroke="#262626" stroke-width="0.25">0</text></g>
<line x1="314.3" y1="497.08" x2="317.5" y2="497.08" stroke="#222" stroke-width="1.2"/>
<g transform="translate(313,499.58) scale(0.9,1)"><text x="0" y="0" font-size="9" text-anchor="end" fill="#262626" stroke="#262626" stroke-width="0.25">20</text></g>
<line x1="314.3" y1="472.76" x2="317.5" y2="472.76" stroke="#222" stroke-width="1.2"/>
<g transform="translate(313,475.26) scale(0.9,1)"><text x="0" y="0" font-size="9" text-anchor="end" fill="#262626" stroke="#262626" stroke-width="0.25">40</text></g>
<line x1="314.3" y1="448.44" x2="317.5" y2="448.44" stroke="#222" stroke-width="1.2"/>
<g transform="translate(313,450.94) scale(0.9,1)"><text x="0" y="0" font-size="9" text-anchor="end" fill="#262626" stroke="#262626" stroke-width="0.25">60</text></g>
<line x1="314.3" y1="424.12" x2="317.5" y2="424.12" stroke="#222" stroke-width="1.2"/>
<g transform="translate(313,426.62) scale(0.9,1)"><text x="0" y="0" font-size="9" text-anchor="end" fill="#262626" stroke="#262626" stroke-width="0.25">80</text></g>
<line x1="314.3" y1="399.8" x2="317.5" y2="399.8" stroke="#222" stroke-width="1.2"/>
<g transform="translate(313,402.3) scale(0.9,1)"><text x="0" y="0" font-size="9" text-anchor="end" fill="#262626" stroke="#262626" stroke-width="0.25">100</text></g>
<line x1="382" y1="521.4" x2="382" y2="524.6" stroke="#222" stroke-width="1.2"/>
<line x1="445.3" y1="521.4" x2="445.3" y2="524.6" stroke="#222" stroke-width="1.2"/>
<line x1="509.1" y1="521.4" x2="509.1" y2="524.6" stroke="#222" stroke-width="1.2"/>
<text transform="translate(282.5,457.8) rotate(-90)" x="0" y="0" font-size="10" text-anchor="middle" fill="#262626" textLength="65.3" lengthAdjust="spacingAndGlyphs" stroke="#262626" stroke-width="0.22">Repopulation in PB</text>
<text transform="translate(294.2,458.85) rotate(-90)" x="0" y="0" font-size="10" text-anchor="middle" fill="#262626" textLength="74" lengthAdjust="spacingAndGlyphs" stroke="#262626" stroke-width="0.22">(%, test / test + comp)</text>
<rect x="448" y="375.8" width="6.6" height="6.6" fill="#314d80"/>
<rect x="448" y="388.2" width="6.6" height="6.6" fill="#ac0130"/>
<text x="457.5" y="381.8" font-size="8.2" fill="#333" stroke="#333" stroke-width="0.05" textLength="46.6" lengthAdjust="spacingAndGlyphs">CALR<tspan font-size="5.6" dy="-3.9">+/+</tspan><tspan dy="3.9">, n=8</tspan></text>
<text x="457.5" y="394.2" font-size="8.2" fill="#333" stroke="#333" stroke-width="0.05" textLength="53.8" lengthAdjust="spacingAndGlyphs">CALR<tspan font-size="5.6" dy="-3.9">del/del</tspan><tspan dy="3.9">, n=8</tspan></text>
<text x="415.8" y="548.4" font-size="9.8" text-anchor="middle" fill="#262626" font-weight="normal" textLength="70.4" lengthAdjust="spacingAndGlyphs" stroke="#262626" stroke-width="0.36">Secondary recipients</text>
<text x="415.8" y="559.1" font-size="9.8" text-anchor="middle" fill="#262626" font-weight="normal" textLength="37.6" lengthAdjust="spacingAndGlyphs" stroke="#262626" stroke-width="0.36">(3 months)</text>
<rect x="0" y="0" width="520" height="1.3" fill="#000"/>
<rect x="0" y="0" width="1.15" height="569" fill="#000"/>
<rect x="518.5" y="0" width="1.5" height="569" fill="#000"/>
<rect x="0" y="567.1" width="520" height="1.9" fill="#000"/>
</svg>
</body></html>
